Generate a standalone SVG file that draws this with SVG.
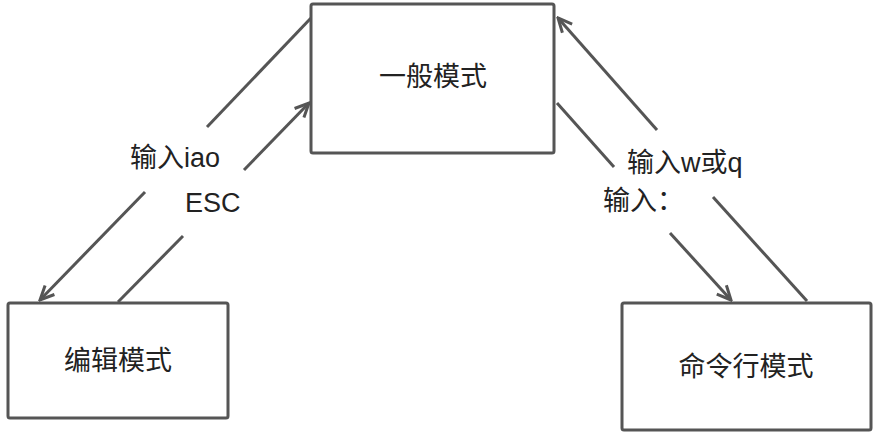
<svg xmlns="http://www.w3.org/2000/svg" width="878" height="434" viewBox="0 0 878 434">
<style>
.box{fill:#ffffff;stroke:#555555;stroke-width:3}
.lbl{font-family:"Liberation Sans","Noto Sans CJK SC",sans-serif;font-size:27px;fill:#222222}
.node{text-anchor:middle;font-size:27px}
.edge{fill:none;stroke:#555555;stroke-width:3}
</style>
<defs>
<marker id="arr" markerUnits="userSpaceOnUse" viewBox="0 0 18 16" markerWidth="18" markerHeight="16" refX="16" refY="8" orient="auto">
<path d="M2,1.5 L16,8 L2,14.5" fill="none" stroke="#555555" stroke-width="3"/>
</marker>
</defs>
<rect width="878" height="434" fill="#ffffff"/>
<g id="connectors">
<g id="e-insert">
<line class="edge" x1="311" y1="18" x2="207" y2="127"/>
<line class="edge" x1="145" y1="192" x2="40" y2="300" marker-end="url(#arr)"/>
<text class="lbl" x="130" y="167">输入iao</text>
</g>
<g id="e-esc">
<line class="edge" x1="118" y1="302" x2="183" y2="236"/>
<line class="edge" x1="244" y1="170" x2="309" y2="103" marker-end="url(#arr)"/>
<text class="lbl" x="185" y="212">ESC</text>
</g>
<g id="e-wq">
<line class="edge" x1="807" y1="301" x2="713" y2="197"/>
<line class="edge" x1="657" y1="130" x2="558" y2="18" marker-end="url(#arr)"/>
<text class="lbl" x="627" y="172">输入w或q</text>
</g>
<g id="e-colon">
<line class="edge" x1="557" y1="103" x2="614" y2="167"/>
<line class="edge" x1="670" y1="233" x2="731" y2="300" marker-end="url(#arr)"/>
<text class="lbl" x="603" y="210">输入：</text>
</g>
</g>
<g id="n-normal">
<rect class="box" x="311" y="4" width="243" height="149" rx="2"/>
<text class="lbl node" x="433" y="86">一般模式</text>
</g>
<g id="n-edit">
<rect class="box" x="8" y="303" width="220" height="115" rx="2"/>
<text class="lbl node" x="118" y="370">编辑模式</text>
</g>
<g id="n-cmd">
<rect class="box" x="622" y="303" width="249" height="127" rx="2"/>
<text class="lbl node" x="746" y="376">命令行模式</text>
</g>
</svg>
